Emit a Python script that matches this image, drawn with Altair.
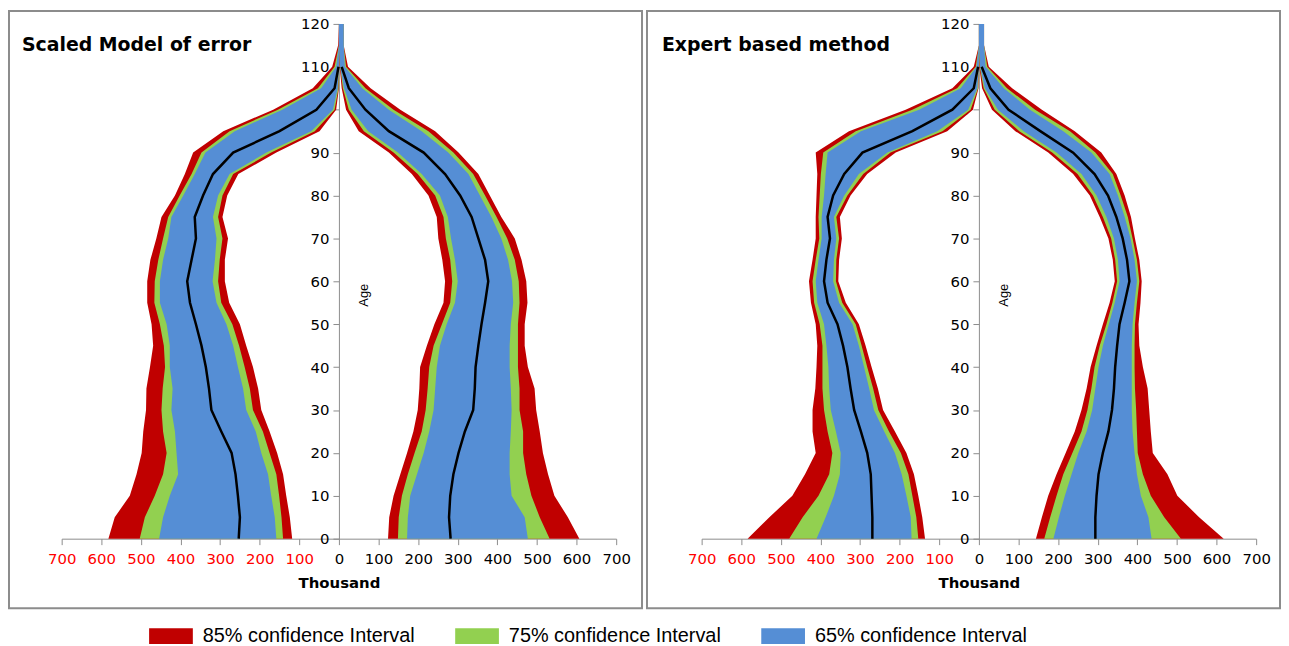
import altair as alt
import pandas as pd

AGES = list(range(0, 121, 5))
BANDS = ["85% confidence Interval", "75% confidence Interval", "65% confidence Interval"]
BAND_COLORS = ["#C00000", "#92D050", "#558ED5"]
PANEL_TITLES = ["Scaled Model of error", "Expert based method"]
X_TICKS = list(range(-700, 701, 100))
Y_TICKS = list(range(0, 121, 10))

# ---------------- Scaled Model of error : males (left side, thousand) ----------------
SME_M_R_HI = [582, 566, 528, 511, 498, 494, 487, 486, 477, 469, 473, 484, 484, 476, 461, 448, 414, 389, 368, 292, 166, 66, 17, 2, 0]
SME_M_G_HI = [503, 490, 465, 444, 435, 444, 448, 445, 439, 442, 452, 466, 465, 456, 444, 431, 402, 372, 347, 276, 154, 53, 11, 0, 0]
SME_M_B_HI = [454, 444, 427, 406, 410, 414, 423, 420, 427, 427, 435, 452, 452, 444, 431, 423, 393, 364, 337, 263, 143, 45, 7, 0, 0]
SME_M_MED = [253, 250, 255, 261, 271, 297, 322, 328, 336, 347, 361, 376, 383, 372, 361, 364, 343, 318, 267, 150, 57, 11, 1, None, None]
SME_M_B_LO = [158, 162, 171, 179, 196, 210, 234, 242, 255, 267, 284, 309, 319, 313, 309, 318, 305, 276, 183, 70, 15, 3, 0, 0, 0]
SME_M_G_LO = [141, 145, 151, 158, 175, 192, 217, 225, 238, 252, 269, 297, 305, 301, 294, 305, 294, 267, 171, 61, 11, 1, 0, 0, 0]
SME_M_R_LO = [118, 124, 133, 141, 156, 175, 196, 204, 217, 234, 250, 277, 288, 288, 280, 294, 282, 254, 158, 49, 7, 0, 0, 0, 0]

# ---------------- Scaled Model of error : females (right side) ----------------
SME_F_R_LO = [124, 127, 138, 155, 172, 188, 199, 203, 205, 222, 241, 264, 268, 261, 251, 247, 226, 184, 126, 50, 18, 7, 2, 0, 0]
SME_F_G_LO = [149, 151, 159, 174, 191, 209, 219, 224, 228, 239, 260, 281, 286, 281, 270, 264, 243, 199, 138, 63, 25, 10, 3, 0, 0]
SME_F_B_LO = [172, 174, 180, 197, 214, 228, 239, 243, 247, 255, 272, 293, 300, 293, 283, 275, 255, 209, 149, 74, 32, 13, 3, 0, 0]
SME_F_MED = [282, 278, 281, 289, 302, 318, 339, 343, 345, 352, 360, 369, 377, 369, 352, 335, 306, 268, 214, 126, 67, 25, 7, None, None]
SME_F_B_HI = [477, 469, 436, 431, 431, 434, 436, 434, 431, 431, 434, 440, 437, 427, 410, 385, 356, 327, 276, 209, 126, 59, 15, 12, 12]
SME_F_G_HI = [532, 507, 486, 473, 465, 465, 456, 456, 452, 452, 452, 456, 454, 444, 425, 398, 369, 339, 289, 226, 138, 67, 18, 12, 12]
SME_F_R_HI = [607, 578, 544, 528, 515, 507, 498, 494, 477, 469, 469, 476, 473, 461, 444, 410, 381, 352, 302, 243, 155, 80, 23, 12, 12]

# ---------------- Expert based method : males ----------------
EBM_M_R_HI = [584, 529, 471, 439, 412, 420, 420, 413, 410, 408, 412, 424, 429, 420, 412, 412, 410, 408, 412, 328, 185, 67, 13, 0, 0]
EBM_M_G_HI = [479, 445, 405, 378, 370, 382, 391, 395, 395, 395, 402, 416, 420, 412, 403, 405, 402, 399, 393, 311, 168, 55, 8, 0, 0]
EBM_M_B_HI = [410, 387, 366, 351, 349, 361, 374, 378, 380, 385, 391, 408, 412, 405, 397, 397, 391, 387, 382, 298, 151, 46, 6, 0, 0]
EBM_M_MED = [269, 269, 271, 273, 282, 298, 315, 324, 332, 343, 357, 382, 391, 385, 376, 382, 368, 340, 294, 168, 67, 13, 2, None, None]
EBM_M_B_LO = [170, 172, 183, 195, 212, 239, 265, 277, 290, 303, 319, 353, 368, 366, 360, 366, 340, 303, 231, 105, 27, 4, 0, 0, 0]
EBM_M_G_LO = [153, 158, 168, 178, 197, 227, 254, 267, 282, 296, 311, 345, 361, 360, 353, 360, 332, 292, 223, 92, 21, 2, 0, 0, 0]
EBM_M_R_LO = [136, 143, 153, 164, 183, 212, 242, 255, 271, 286, 303, 336, 355, 353, 346, 351, 324, 282, 210, 80, 15, 1, 0, 0, 0]

# ---------------- Expert based method : females ----------------
EBM_F_R_LO = [144, 159, 175, 196, 219, 242, 259, 272, 282, 297, 313, 330, 343, 338, 327, 305, 280, 238, 175, 92, 33, 8, 1, 0, 0]
EBM_F_G_LO = [165, 180, 196, 213, 236, 259, 274, 284, 292, 305, 322, 337, 349, 344, 334, 313, 288, 249, 185, 102, 40, 12, 2, 0, 0]
EBM_F_B_LO = [188, 202, 217, 234, 251, 272, 286, 294, 302, 313, 328, 343, 355, 351, 341, 322, 297, 259, 196, 113, 48, 15, 3, 0, 0]
EBM_F_MED = [294, 294, 297, 302, 313, 327, 336, 341, 344, 349, 355, 368, 380, 374, 363, 347, 326, 292, 238, 155, 75, 29, 7, None, None]
EBM_F_B_HI = [436, 428, 409, 399, 393, 388, 386, 386, 386, 386, 388, 393, 399, 393, 383, 368, 351, 330, 284, 213, 129, 63, 17, 13, 13]
EBM_F_G_HI = [510, 468, 434, 414, 401, 399, 397, 394, 393, 393, 394, 399, 405, 399, 388, 376, 358, 338, 294, 230, 142, 71, 21, 13, 13]
EBM_F_R_HI = [618, 556, 501, 476, 439, 434, 430, 426, 414, 405, 403, 408, 411, 405, 394, 384, 368, 347, 309, 242, 159, 84, 25, 13, 13]

SME_MALE = dict(r_lo=SME_M_R_LO, r_hi=SME_M_R_HI, g_lo=SME_M_G_LO, g_hi=SME_M_G_HI,
                b_lo=SME_M_B_LO, b_hi=SME_M_B_HI, med=SME_M_MED)
SME_FEMALE = dict(r_lo=SME_F_R_LO, r_hi=SME_F_R_HI, g_lo=SME_F_G_LO, g_hi=SME_F_G_HI,
                  b_lo=SME_F_B_LO, b_hi=SME_F_B_HI, med=SME_F_MED)
EBM_MALE = dict(r_lo=EBM_M_R_LO, r_hi=EBM_M_R_HI, g_lo=EBM_M_G_LO, g_hi=EBM_M_G_HI,
                b_lo=EBM_M_B_LO, b_hi=EBM_M_B_HI, med=EBM_M_MED)
EBM_FEMALE = dict(r_lo=EBM_F_R_LO, r_hi=EBM_F_R_HI, g_lo=EBM_F_G_LO, g_hi=EBM_F_G_HI,
                  b_lo=EBM_F_B_LO, b_hi=EBM_F_B_HI, med=EBM_F_MED)

PLOT_W = 558
PLOT_H = 518
GREY = "#8C8C8C"
AXIS_FONT = "DejaVu Sans"


def tables(male, female):
    rows, med_rows = [], []
    for side, d, sign in (("male", male, -1), ("female", female, 1)):
        for i, age in enumerate(AGES):
            for band, lo, hi in ((BANDS[0], "r_lo", "r_hi"), (BANDS[1], "g_lo", "g_hi"), (BANDS[2], "b_lo", "b_hi")):
                rows.append(dict(side=side, age=age, band=band, lo=sign * d[lo][i], hi=sign * d[hi][i]))
            if d["med"][i] is not None:
                med_rows.append(dict(side=side, age=age, med=sign * d["med"][i]))
    return pd.DataFrame(rows), pd.DataFrame(med_rows)


x_scale = alt.Scale(domain=[-700, 700], nice=False, zero=False)
y_scale = alt.Scale(domain=[0, 120], nice=False)

x_axis = alt.Axis(values=X_TICKS, labelExpr="abs(datum.value)", title="Thousand", grid=False,
                  labelColor={"condition": {"test": "datum.value < 0", "value": "#FF0000"}, "value": "#000000"},
                  labelFont=AXIS_FONT, labelFontSize=15, labelPadding=7,
                  titleFont=AXIS_FONT, titleFontSize=15, titleFontWeight="bold", titlePadding=9,
                  domainColor=GREY, tickColor=GREY, tickSize=6, labelFlush=False)
y_axis = alt.Axis(values=Y_TICKS, title=None, grid=False, offset=-PLOT_W / 2,
                  labelFont=AXIS_FONT, labelFontSize=15, labelPadding=4, labelColor="#000000",
                  domainColor=GREY, tickColor=GREY, tickSize=6)

color = alt.Color("band:N", scale=alt.Scale(domain=BANDS, range=BAND_COLORS),
                  legend=alt.Legend(orient="none", legendX=88, legendY=594, direction="horizontal",
                                    columns=3, title=None, symbolType="M-1,-0.36H1V0.36H-1Z",
                                    symbolSize=1936, symbolStrokeWidth=0, symbolOpacity=1,
                                    labelFont="Liberation Sans Narrow, Liberation Sans, sans-serif",
                                    labelFontSize=20, labelOffset=10, columnPadding=40,
                                    labelLimit=0, labelColor="#000000"))


def panel(title, male, female, rect_x):
    df, mdf = tables(male, female)
    layers = []
    frame = alt.Chart(pd.DataFrame({"k": [0]})).mark_rect(
        fillOpacity=0, stroke=GREY, strokeWidth=2).encode(
        x=alt.value(rect_x), x2=alt.value(rect_x + 637), y=alt.value(-13), y2=alt.value(588))
    layers.append(frame)
    for b in BANDS:
        layers.append(
            alt.Chart(df).transform_filter(alt.datum.band == b)
            .mark_area(orient="horizontal", interpolate="linear", opacity=1)
            .encode(x=alt.X("lo:Q", scale=x_scale, axis=x_axis),
                    x2="hi:Q",
                    y=alt.Y("age:Q", scale=y_scale, axis=y_axis),
                    detail="side:N", color=color)
        )
    layers.append(
        alt.Chart(mdf).mark_line(color="black", strokeWidth=2.5)
        .encode(x=alt.X("med:Q", scale=x_scale, axis=x_axis),
                y=alt.Y("age:Q", scale=y_scale, axis=y_axis),
                detail="side:N", order="age:Q")
    )
    layers.append(
        alt.Chart(pd.DataFrame({"t": [title]})).mark_text(
            align="left", baseline="middle", font=AXIS_FONT, fontSize=19, fontWeight="bold", color="black")
        .encode(text="t:N", x=alt.value(-40), y=alt.value(21))
    )
    layers.append(
        alt.Chart(pd.DataFrame({"t": ["Age"]})).mark_text(
            align="center", baseline="middle", angle=270, font="Liberation Sans", fontSize=13, color="black")
        .encode(text="t:N", x=alt.value(PLOT_W / 2 + 25), y=alt.value(273))
    )
    return alt.layer(*layers).properties(width=PLOT_W, height=PLOT_H)


left = panel(PANEL_TITLES[0], SME_MALE, SME_FEMALE, -53)
right = panel(PANEL_TITLES[1], EBM_MALE, EBM_FEMALE, -55)

chart = (alt.hconcat(left, right, spacing=3)
         .resolve_scale(color="shared")
         .properties(padding=0)
         .configure_view(stroke=None))

chart.save("out.html", embed_options={"renderer": "svg", "actions": False})
